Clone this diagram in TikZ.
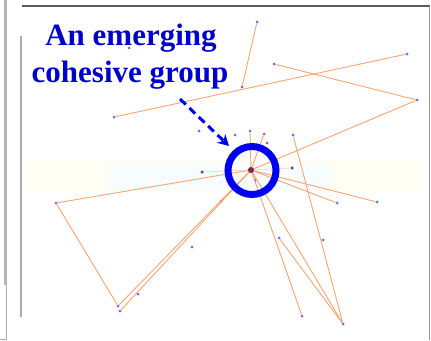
\documentclass[tikz,border=0pt]{standalone}
\usepackage{fontspec}
\setmainfont{Liberation Serif}
\usetikzlibrary{arrows.meta}
\definecolor{edgeor}{RGB}{246,165,115}
\definecolor{dotblue}{RGB}{105,105,235}
\definecolor{hubpur}{RGB}{120,40,90}
\definecolor{framegray}{RGB}{150,150,150}
\definecolor{txtblue}{RGB}{0,0,205}
\definecolor{ringblue}{RGB}{0,0,240}
\definecolor{bandy}{RGB}{255,254,244}
\definecolor{bandc}{RGB}{246,252,255}
\begin{document}
\begin{tikzpicture}[x=1pt,y=-1pt,
  dot/.style={circle,fill=dotblue,inner sep=0pt,minimum size=3pt},
  dkdot/.style={circle,fill=hubpur!70!gray,inner sep=0pt,minimum size=3.5pt},
  edge/.style={draw=edgeor,line width=0.9pt},
  faint/.style={draw=edgeor!45,line width=0.7pt},
  lbl/.style={font=\fontsize{31}{37}\selectfont\bfseries,text=txtblue,inner sep=0pt,anchor=base}]
\useasboundingbox (0,0) rectangle (431,340);
\fill[white] (0,0) rectangle (431,340);
% faint band behind the cluster
\fill[bandy] (28,160) rectangle (420,192);
\fill[bandc] (110,165) rectangle (330,190);
% frame
\draw[draw=framegray!70,line width=3pt] (5,0) -- (5,285);
\draw[draw=framegray!80,line width=1.5pt] (6.5,285) -- (6.5,339.3) -- (0,339.3);
\draw[draw=framegray!80,line width=2pt] (21,36) -- (21,317);
\draw[draw=black!65,line width=2pt] (22,6) -- (430,6);
\draw[draw=framegray,line width=1.8pt] (429.5,6) -- (429.5,340);
% nodes
\node[dot] (a) at (257,22) {};
\node[dot] (b) at (129,48) {};
\node[dot] (c) at (407,54) {};
\node[dot] (d) at (274,64) {};
\node[dot] (e) at (242,87) {};
\node[dot] (f) at (417,100) {};
\node[dot] (g) at (114,117) {};
\node[dot] (h) at (199,131) {};
\node[dot] (i) at (235,135) {};
\node[dot] (j) at (250,131) {};
\node[dot] (k) at (264,134) {};
\node[dot] (l) at (267,143) {};
\node[dot] (m) at (293,135) {};
\node[dkdot] (p) at (202,172) {};
\node[dkdot] (q) at (292,168) {};
\node[dot] (r) at (255,180) {};
\node[dot] (s) at (56,203) {};
\node[dot] (t) at (221,201) {};
\node[dot] (u) at (337,203) {};
\node[dot] (v) at (377,202) {};
\node[dot] (w) at (279,238) {};
\node[dot] (x) at (323,240) {};
\node[dot] (y) at (192,247) {};
\node[dot] (z) at (138,294) {};
\node[dot] (aa) at (118,306) {};
\node[dot] (ab) at (120,311) {};
\node[dot] (ac) at (302,316) {};
\node[dot] (ad) at (343,324) {};
\coordinate (hubc) at (251,170);
% faint fan edges
\draw[faint] (hubc) -- (p);
\draw[faint] (hubc) -- (q);
\draw[faint] (hubc) -- (r);
\draw[faint] (hubc) -- (t);
% edges
\draw[edge] (a) -- (e);
\draw[edge] (g) -- (c);
\draw[edge] (d) -- (f);
\draw[edge] (f) -- (hubc);
\draw[edge] (m) -- (ad);
\draw[edge] (hubc) -- (s);
\draw[edge] (s) -- (aa);
\draw[edge] (aa) -- (hubc);
\draw[edge] (ab) -- (hubc);
\draw[edge] (hubc) -- (u);
\draw[edge] (hubc) -- (v);
\draw[edge] (w) -- (ad);
\draw[edge] (hubc) -- (ac);
\draw[edge] (hubc) -- (ad);
\draw[edge] (hubc) -- (j);
\draw[edge] (hubc) -- (k);
\node[circle,fill=hubpur,inner sep=0pt,minimum size=6pt] (hub) at (hubc) {};
% highlight ring
\node[circle,draw=ringblue,line width=7pt,minimum size=48pt,inner sep=0pt] (ring) at (252,170.5) {};
% label and arrow
\node[lbl] (lbl1) at (131,45) {An emerging};
\node[lbl] (lbl2) at (130,82) {cohesive group};
\coordinate (arrS) at (180,99);
\coordinate (arrE) at (229,146);
\draw[draw=ringblue,line width=3pt,dash pattern=on 8pt off 5pt,-{Stealth[length=11pt,width=12pt]}] (arrS) -- (arrE);
\end{tikzpicture}
\end{document}
